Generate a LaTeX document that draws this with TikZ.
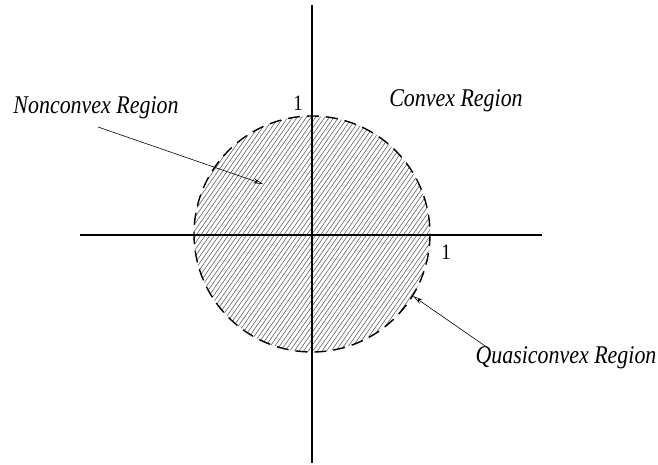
\documentclass[tikz,border=0pt]{standalone}
\usepackage{fontspec}
\setmainfont{Liberation Serif}
\newfontfamily\narrowserif[FakeStretch=0.86]{Liberation Serif}
\usetikzlibrary{arrows.meta,calc}
\begin{document}
\begin{tikzpicture}[x=1pt,y=-1pt,
  axis/.style={line width=1.3pt},
  lbl/.style={font=\narrowserif\fontsize{25.5}{28}\selectfont\itshape, inner sep=0pt},
  num/.style={font=\narrowserif\fontsize{22}{26}\selectfont, inner sep=0pt},
  pointer/.style={line width=0.6pt, -{Stealth[open,length=10pt,width=5pt]}},
  hatch/.style={line width=0.55pt, black!65},
  rim/.style={line width=1.4pt, dash pattern=on 12pt off 7pt}]
\useasboundingbox (0,0) rectangle (658,464);
% hatched disc
\coordinate (c) at (312,234);
\begin{scope}
  \clip (c) circle (118);
  \foreach \i in {-65,...,65}
    \draw[hatch] ($(c)+(\i*4.6-110,157)$) -- ($(c)+(\i*4.6+110,-157)$);
\end{scope}
\draw[rim] (c) circle (118);
% axes
\coordinate (yt) at (312,5);
\coordinate (yb) at (312,463);
\coordinate (xl) at (80,235);
\coordinate (xr) at (542,235);
\draw[axis] (yt) -- (yb);
\draw[axis] (xl) -- (xr);
% labels
\node[num] (one1) at (298,103) {1};
\node[num] (one2) at (446,252) {1};
\node[lbl] (nonc) at (96,108) {Nonconvex Region};
\node[lbl] (conv) at (456,101) {Convex Region};
\node[lbl] (quasi) at (566,358) {Quasiconvex Region};
\coordinate (nstart) at (98,127);
\coordinate (ntip) at (263,184);
\coordinate (qstart) at (488,348);
\coordinate (qtip) at (413,296);
\draw[pointer] (nstart) -- (ntip);
\draw[pointer] (qstart) -- (qtip);
\end{tikzpicture}
\end{document}
